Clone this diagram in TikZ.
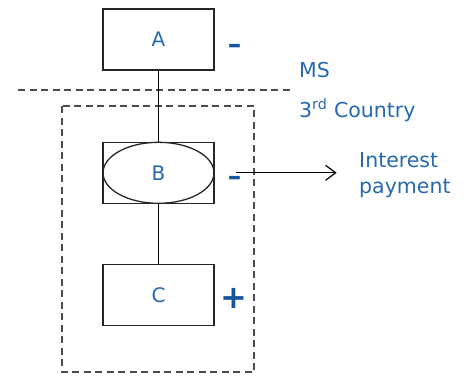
\documentclass[tikz,border=0pt]{standalone}
\usepackage{fontspec}
\setmainfont{DejaVu Sans}
\usepackage{xcolor}
\usetikzlibrary{arrows.meta, positioning, shapes.geometric}

\definecolor{labelblue}{RGB}{38,104,176}
\definecolor{signblue}{RGB}{22,84,158}
\definecolor{dashgray}{RGB}{75,75,75}

\begin{document}
\begin{tikzpicture}[
  x=1pt, y=-1pt,
  entity/.style={draw=black!85, line width=1.3pt, minimum width=111pt, minimum height=61pt, text centered, text=labelblue, font=\fontsize{20}{24}\selectfont},
  sign/.style={text=signblue, inner sep=0pt, font=\fontsize{27}{27}\selectfont\bfseries},
  note/.style={text=labelblue, inner sep=0pt, anchor=west, align=left, font=\fontsize{20.5}{26}\selectfont},
  border/.style={draw=dashgray, line width=1.2pt, dash pattern=on 7pt off 4.5pt},
  link/.style={draw, line width=1.5pt},
  flow/.style={draw, line width=1.2pt, -{Straight Barb[length=10pt, width=15pt]}}
]
\useasboundingbox (0,0) rectangle (470,376);

% Border between MS and 3rd country, and the box round the 3rd country part
\draw [border] (18,90) -- (290,90);
\draw [border] (62,106) rectangle (254,372);

% Entities
\node (a) [entity] at (158.5,39.5) {A};
\node (b) [entity, below=71pt of a] {};
\node (bcore) [entity, ellipse] at (b) {B};
\node (c) [entity, below=60pt of b] {C};

% Signs next to the entities
\node (asign) [sign, right=13pt of a, yshift=-9pt] {–};
\node (bsign) [sign, right=13pt of b, yshift=-8pt] {–};
\node (csign) [sign, font=\fontsize{32}{32}\selectfont\bfseries, right=6pt of c, yshift=-3pt] {+};

% Side texts
\node (ms) [note] at (299,70) {MS};
\node (third) [note] at (299,110) {3\textsuperscript{rd} Country};
\node (interest) [note] at (359,175) {Interest\\payment};

% Connections
\draw [link] (a) -- (b);
\draw [link] (b) -- (c);

\coordinate (payfrom) at ([xshift=21pt]b.east);
\coordinate (payto) at ([xshift=122pt]b.east);
\draw [flow] (payfrom) -- (payto);

\end{tikzpicture}
\end{document}
